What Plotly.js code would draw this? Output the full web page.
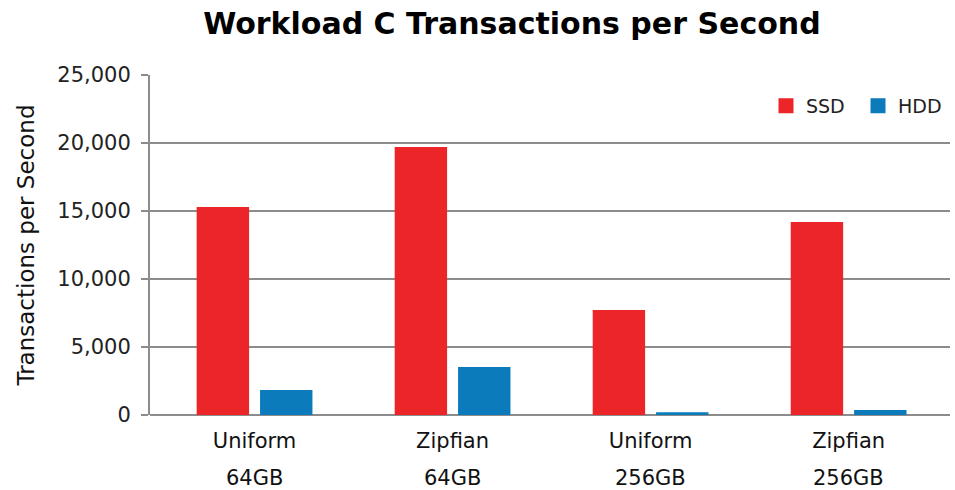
<!DOCTYPE html>
<html><head><meta charset="utf-8">
<script src="https://cdn.plot.ly/plotly-3.0.1.min.js"></script>
<style>html,body{margin:0;padding:0;background:#fff}#chart{width:955px;height:490px}</style>
</head><body><div id="chart"></div>
<script>
var categories = ["Uniform 64GB", "Zipfian 64GB", "Uniform 256GB", "Zipfian 256GB"];
var tickLine1 = ["Uniform", "Zipfian", "Uniform", "Zipfian"];
var tickLine2 = ["64GB", "64GB", "256GB", "256GB"];
var seriesNames = ["SSD", "HDD"];
var ssdValues = [15300, 19700, 7720, 14200];
var hddValues = [1840, 3530, 200, 370];
var yTicks = [0, 5000, 10000, 15000, 20000, 25000];
var yTickText = ["0", "5,000", "10,000", "15,000", "20,000", "25,000"];
var colors = ["#EC2529", "#0B7BBB"];

var font = "'DejaVu Sans', Verdana, sans-serif";
var data = [
  {type: "bar", name: seriesNames[0], x: categories, y: ssdValues, marker: {color: colors[0]}, showlegend: false},
  {type: "bar", name: seriesNames[1], x: categories, y: hddValues, marker: {color: colors[1]}, showlegend: false},
  {type: "scatter", mode: "markers", name: seriesNames[0], x: [null], y: [null],
   marker: {symbol: "square", size: 15, color: colors[0]}, showlegend: true},
  {type: "scatter", mode: "markers", name: seriesNames[1], x: [null], y: [null],
   marker: {symbol: "square", size: 15, color: colors[1]}, showlegend: true}
];
var annotations = categories.map(function(c, i) {
  return {x: c, xref: "x", y: 0, yref: "paper", yanchor: "middle", yshift: -63,
          text: tickLine2[i], showarrow: false, font: {family: font, size: 21, color: "#111"}};
});
var layout = {
  width: 955, height: 490,
  margin: {l: 150, r: 5, t: 75, b: 75},
  paper_bgcolor: "#fff", plot_bgcolor: "#fff",
  title: {text: "<b>Workload C Transactions per Second</b>", x: 0.536, xanchor: "center", y: 0.953, yanchor: "middle",
          font: {family: "'DejaVu Sans', Verdana, sans-serif", size: 30, color: "#000"}},
  barmode: "group", bargap: 0.36, bargroupgap: 0.173,
  xaxis: {type: "category", tickmode: "array", tickvals: categories, ticktext: tickLine1, range: [-0.528, 3.512],
          tickfont: {family: font, size: 21, color: "#111"}, showgrid: false, showline: false,
          ticks: "", ticklen: 0, ticklabelstandoff: 11, automargin: false},
  yaxis: {range: [0, 25000], tickmode: "array", tickvals: yTicks, ticktext: yTickText,
          tickfont: {family: font, size: 21, color: "#222"}, showgrid: true, gridcolor: "#8c8c8c", gridwidth: 2,
          zeroline: true, zerolinecolor: "#8c8c8c", zerolinewidth: 2,
          showline: true, linecolor: "#8c8c8c", linewidth: 2, ticks: "outside", ticklen: 7, tickcolor: "#8c8c8c", tickwidth: 2,
          ticklabelstandoff: 6,
          title: {text: "Transactions per Second", font: {family: font, size: 23, color: "#111"}, standoff: 16},
          automargin: false},
  legend: {orientation: "h", x: 1.0, xanchor: "right", y: 0.965, yanchor: "top", entrywidth: 47,
           font: {family: font, size: 19, color: "#222"}, bgcolor: "rgba(0,0,0,0)", itemwidth: 30, traceorder: "normal"},
  annotations: annotations,
  showlegend: true
};
Plotly.newPlot("chart", data, layout, {displayModeBar: false, staticPlot: true});
</script></body></html>
